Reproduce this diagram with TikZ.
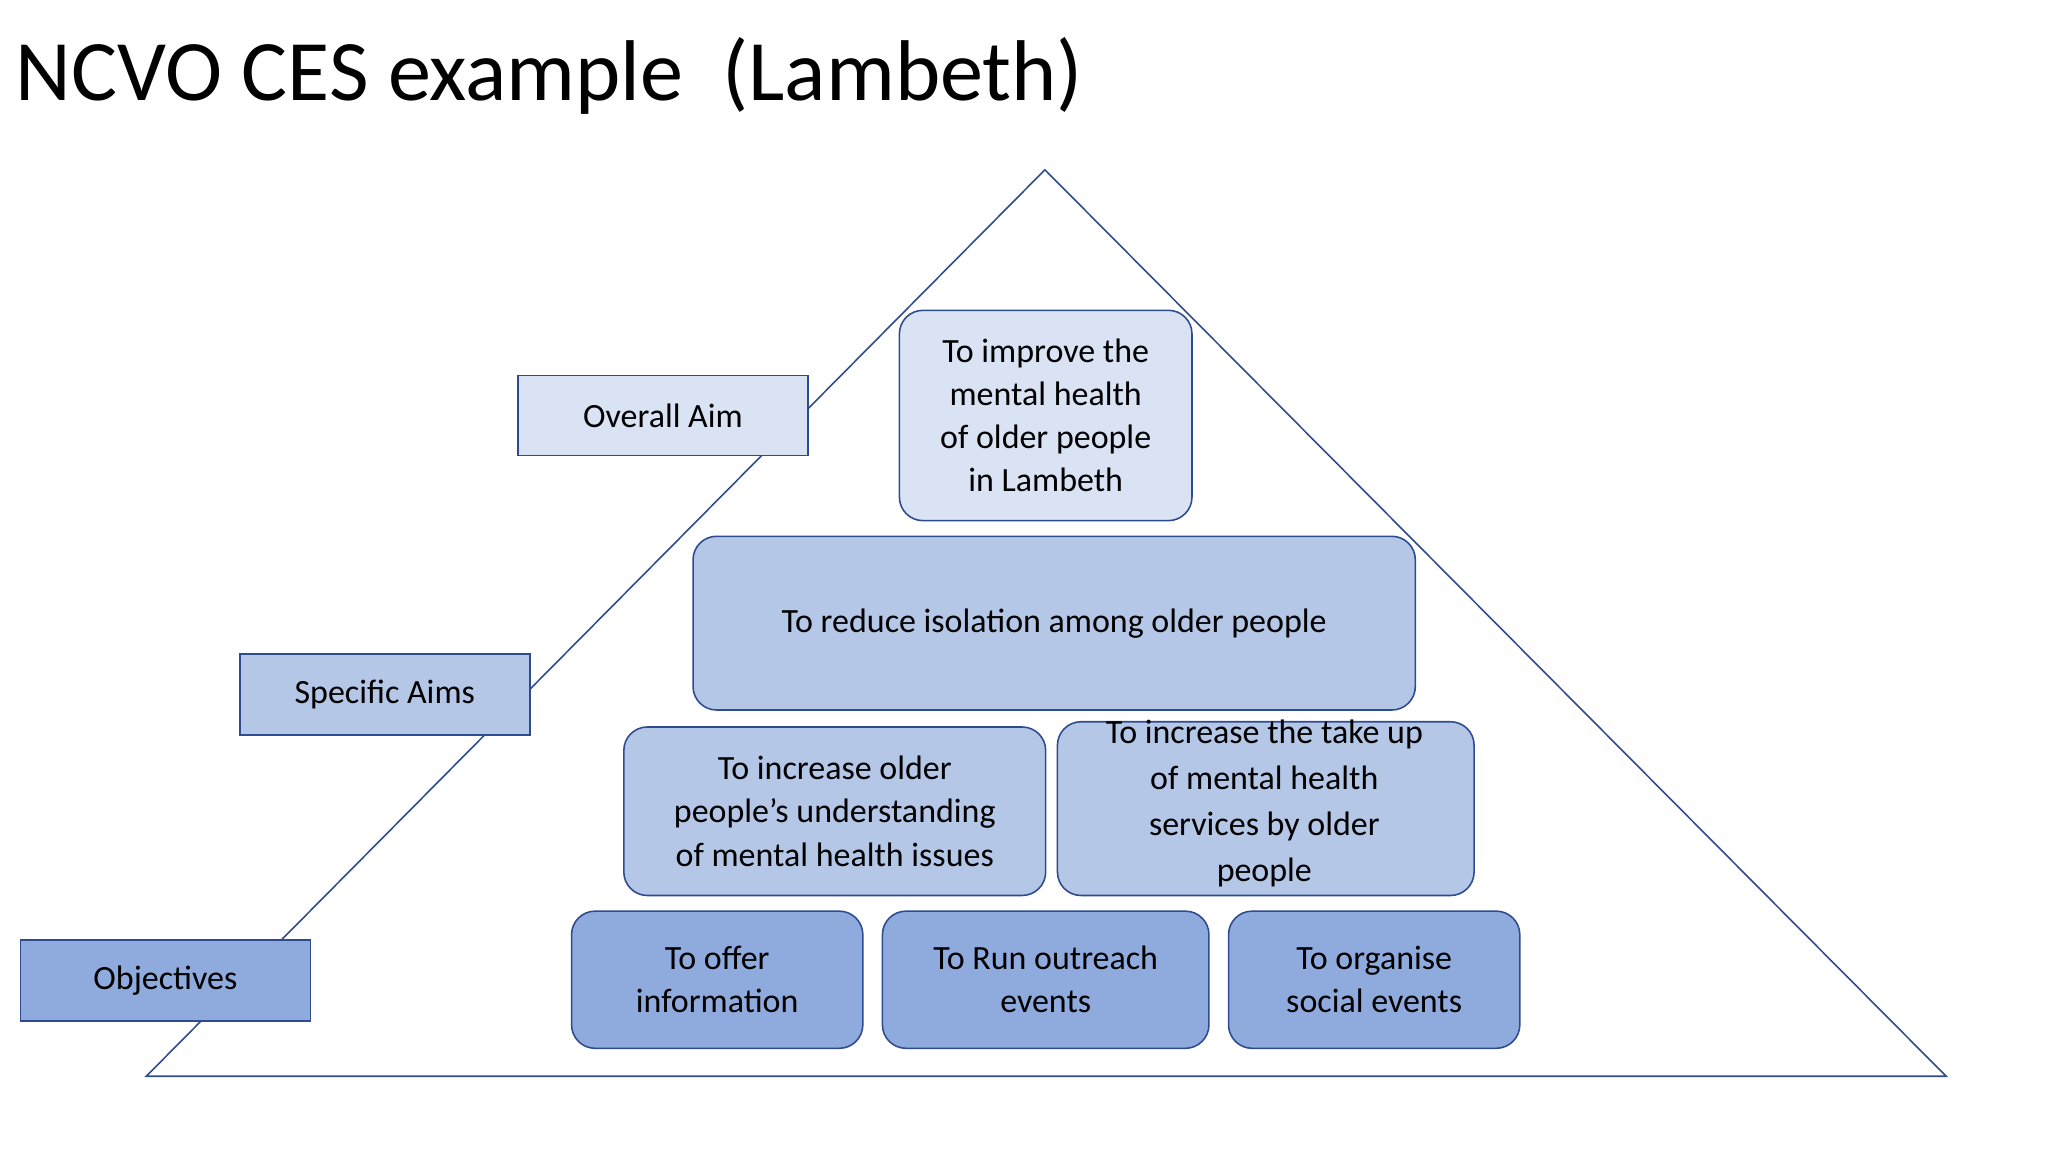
\documentclass[tikz,border=0pt]{standalone}
\usepackage{fontspec}
\setmainfont{Carlito}
\definecolor{edge}{HTML}{2F4B8F}
\definecolor{fa}{HTML}{DAE3F3}
\definecolor{fb}{HTML}{B4C7E7}
\definecolor{fc}{HTML}{8FAADC}
\begin{document}
\begin{tikzpicture}[x=1pt,y=-1pt,
  lab/.style={draw=edge,line width=1.2pt,anchor=north west,inner sep=0pt,font=\fontsize{26}{33}\selectfont,align=center},
  rb/.style={lab,rounded corners=18pt}]
\useasboundingbox[fill=white] (0,0) rectangle (1568,882);
\node[anchor=base west,inner sep=0pt,font=\fontsize{66}{70}\selectfont] (title) at (12,77) {NCVO CES example\ \ (Lambeth)};
\coordinate (apex) at (800,130);
\coordinate (bl) at (112,824);
\coordinate (br) at (1490,824);
\draw[edge,line width=1.2pt] (apex) -- (bl) -- (br) -- cycle;
\node[lab,fill=fa,minimum width=222pt,minimum height=61pt] (oa) at (396,287) {Overall Aim};
\node[lab,fill=fb,minimum width=222pt,minimum height=62pt] (sa) at (183,500) {Specific Aims};
\node[lab,fill=fc,minimum width=222pt,minimum height=62pt] (ob) at (15,719) {Objectives};
\node[rb,fill=fa,minimum width=224pt,minimum height=161pt] (t1) at (688,237) {To improve the\\mental health\\of older people\\in Lambeth};
\node[rb,fill=fb,minimum width=553pt,minimum height=133pt] (t2) at (530,410) {To reduce isolation among older people};
\node[rb,fill=fb,minimum width=323pt,minimum height=129pt] (t3) at (477,556) {To increase older\\people’s understanding\\of mental health issues};
\node[rb,fill=fb,minimum width=319pt,minimum height=133pt,text depth=0pt] (t4) at (809,552) {};
\node[font=\fontsize{26}{35}\selectfont,align=center,anchor=north] (t4t) at (968,548) {To increase the take up\\of mental health\\services by older\\people};
\node[rb,fill=fc,minimum width=223pt,minimum height=105pt] (o1) at (437,697) {To offer\\information};
\node[rb,fill=fc,minimum width=250pt,minimum height=105pt] (o2) at (675,697) {To Run outreach\\events};
\node[rb,fill=fc,minimum width=223pt,minimum height=105pt] (o3) at (940,697) {To organise\\social events};
\end{tikzpicture}
\end{document}
